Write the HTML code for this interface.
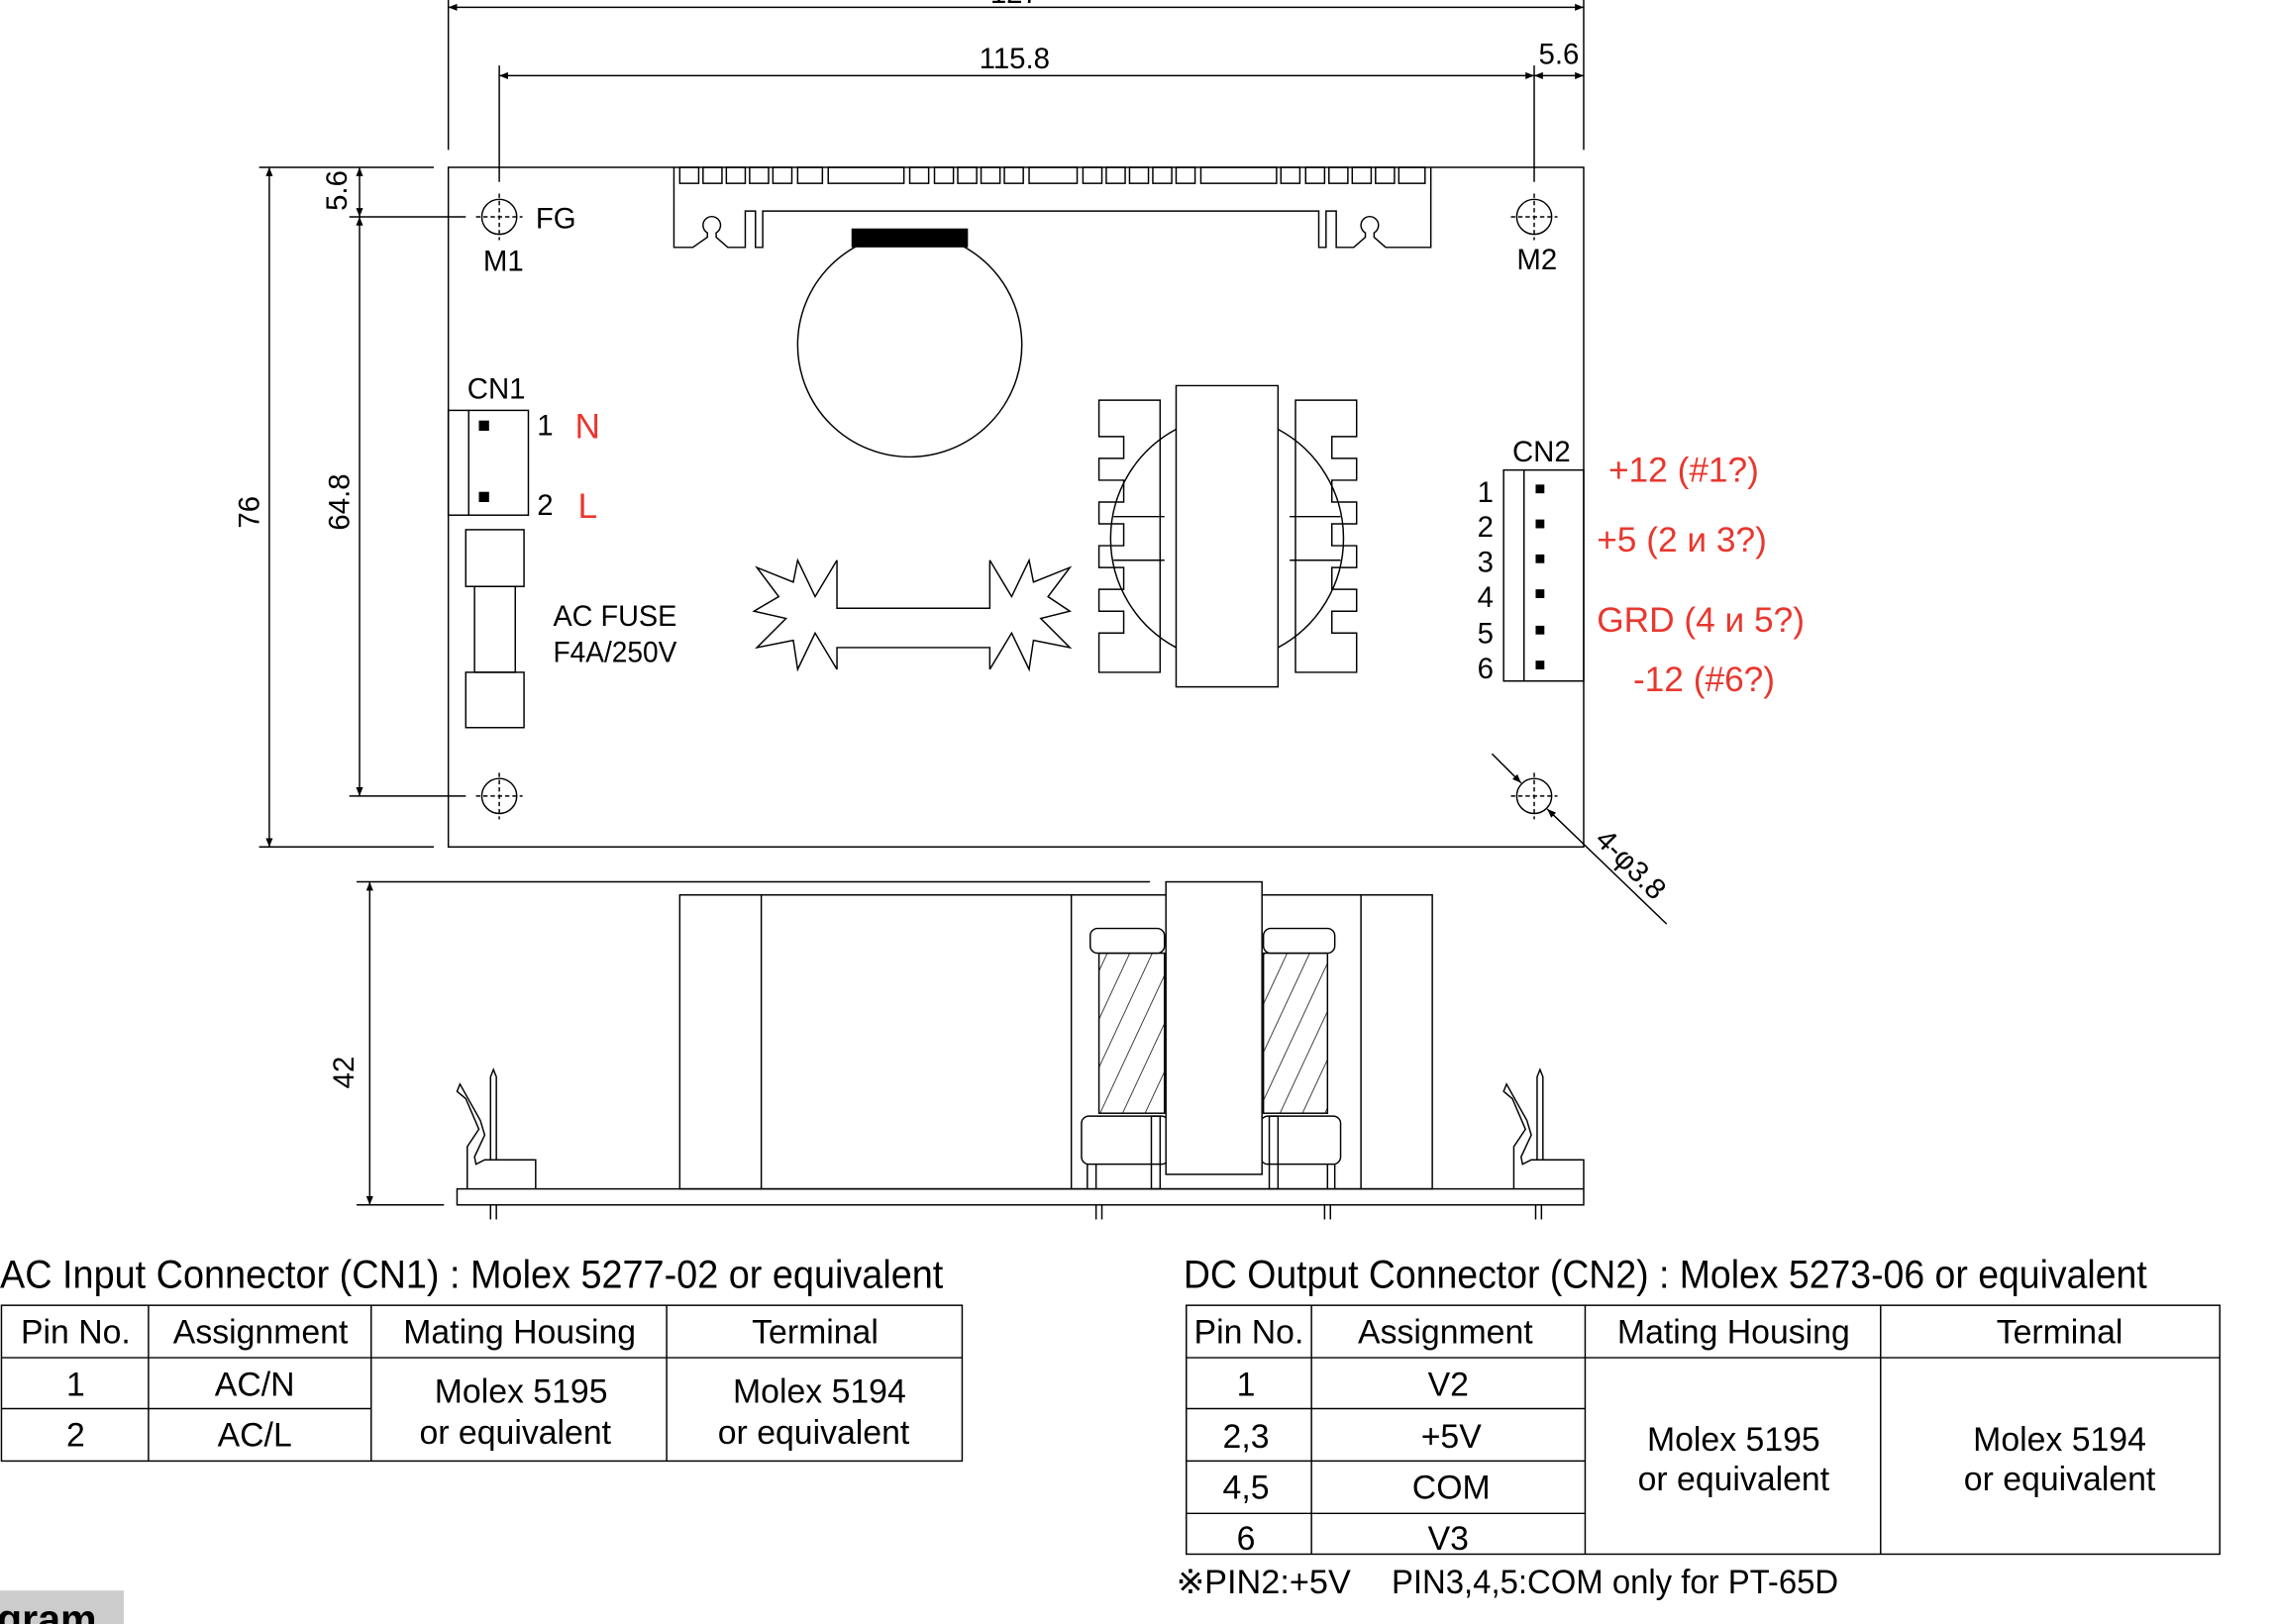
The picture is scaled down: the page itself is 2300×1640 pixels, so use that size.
<!DOCTYPE html>
<html><head><meta charset="utf-8"><style>html,body{margin:0;padding:0;background:#fff}svg{display:block}</style></head>
<body>
<svg width="2300" height="1640" viewBox="0 0 1565 1116" preserveAspectRatio="none" xmlns="http://www.w3.org/2000/svg" font-family="Liberation Sans, sans-serif">
<defs>
<marker id="a" viewBox="0 0 10 10" refX="10" refY="5" markerWidth="9" markerHeight="6" orient="auto-start-reverse" markerUnits="userSpaceOnUse"><path d="M0,1 L10,5 L0,9z" fill="#000"/></marker>
<pattern id="h" width="14" height="14" patternUnits="userSpaceOnUse" patternTransform="rotate(25)"><line x1="0" y1="0" x2="0" y2="14" stroke="#000" stroke-width="1"/></pattern>
</defs>
<g stroke="#000" fill="none" stroke-width="1">
<line x1="308" y1="0" x2="308" y2="103"/><line x1="1088" y1="0" x2="1088" y2="103"/>
<line x1="308" y1="5" x2="1088" y2="5" marker-start="url(#a)" marker-end="url(#a)"/>
<line x1="343" y1="45" x2="343" y2="125"/><line x1="1054" y1="45" x2="1054" y2="125"/>
<line x1="343" y1="52" x2="1054" y2="52" marker-start="url(#a)" marker-end="url(#a)"/>
<line x1="1054" y1="52" x2="1088" y2="52" marker-start="url(#a)" marker-end="url(#a)"/>
<rect x="308" y="115" width="780" height="467"/>
<line x1="178" y1="115" x2="298" y2="115"/><line x1="178" y1="582" x2="298" y2="582"/>
<line x1="185" y1="115" x2="185" y2="582" marker-start="url(#a)" marker-end="url(#a)"/>
<line x1="240" y1="149" x2="320" y2="149"/><line x1="240" y1="547" x2="320" y2="547"/>
<line x1="247" y1="149" x2="247" y2="547" marker-start="url(#a)" marker-end="url(#a)"/>
<line x1="247" y1="115" x2="247" y2="149" marker-start="url(#a)" marker-end="url(#a)"/>
<g stroke-dasharray="3,2"><line x1="327" y1="149" x2="359" y2="149"/><line x1="343" y1="133" x2="343" y2="165"/>
<line x1="1038" y1="149" x2="1070" y2="149"/><line x1="1054" y1="133" x2="1054" y2="165"/>
<line x1="327" y1="547" x2="359" y2="547"/><line x1="343" y1="531" x2="343" y2="563"/>
<line x1="1038" y1="547" x2="1070" y2="547"/><line x1="1054" y1="531" x2="1054" y2="563"/></g>
<circle cx="343" cy="149" r="12"/><circle cx="1054" cy="149" r="12"/><circle cx="343" cy="547" r="12"/><circle cx="1054" cy="547" r="12"/>
<path d="M463,115 V170 H476 L486,163 V160 A6,6 0 1 1 492,160 V163 L500,170 H512 V145 H519 V170 H524 V145 H906 V170 H911 V145 H918 V170 H930 L938,163 V160 A6,6 0 1 1 944,160 V163 L952,170 H983 V115"/>
<g>
<rect x="467" y="115" width="13" height="11"/><rect x="483" y="115" width="13" height="11"/><rect x="499" y="115" width="13" height="11"/><rect x="515" y="115" width="13" height="11"/><rect x="531" y="115" width="13" height="11"/><rect x="548" y="115" width="17" height="11"/><rect x="569" y="115" width="52" height="11"/><rect x="625" y="115" width="13" height="11"/><rect x="642" y="115" width="13" height="11"/><rect x="658" y="115" width="13" height="11"/><rect x="674" y="115" width="13" height="11"/><rect x="690" y="115" width="13" height="11"/><rect x="707" y="115" width="33" height="11"/><rect x="744" y="115" width="13" height="11"/><rect x="760" y="115" width="13" height="11"/><rect x="776" y="115" width="13" height="11"/><rect x="792" y="115" width="13" height="11"/><rect x="808" y="115" width="13" height="11"/><rect x="825" y="115" width="52" height="11"/><rect x="880" y="115" width="13" height="11"/><rect x="897" y="115" width="13" height="11"/><rect x="913" y="115" width="13" height="11"/><rect x="929" y="115" width="13" height="11"/><rect x="945" y="115" width="13" height="11"/><rect x="961" y="115" width="18" height="11"/>
</g>
<circle cx="625" cy="237" r="77"/>
<rect x="308" y="282" width="55" height="72"/><line x1="322" y1="282" x2="322" y2="354"/>
<rect x="320" y="364" width="40" height="39"/><rect x="326" y="403" width="28" height="59"/><rect x="320" y="462" width="40" height="38"/>
<path d="M575,385 V418 H680 V385 M575,460 V445 H680 V460"/>
<path d="M575,385 L560,410 L548,385 L545,400 L520,390 L535,410 L518,420 L540,425 L520,445 L545,440 L548,460 L560,435 L575,460"/>
<path d="M680,385 L695,410 L707,385 L710,400 L735,390 L720,410 L735,420 L715,425 L735,445 L710,440 L707,460 L695,435 L680,460"/>
<path d="M808,265 H878 V472 H808Z"/>
<path d="M797,275 H755 V300 H772 V315 H755 V330 H772 V345 H755 V360 H772 V375 H755 V390 H772 V405 H755 V420 H772 V435 H755 V462 H797 Z"/>
<path d="M890,275 H932 V300 H915 V315 H932 V330 H915 V345 H932 V360 H915 V375 H932 V390 H915 V405 H932 V420 H915 V435 H932 V462 H890 Z"/>
<path d="M808,295 A85,85 0 0 0 808,445"/><path d="M878,295 A85,85 0 0 1 878,445"/>
<line x1="765" y1="355" x2="800" y2="355"/><line x1="765" y1="385" x2="800" y2="385"/><line x1="886" y1="355" x2="921" y2="355"/><line x1="886" y1="385" x2="921" y2="385"/>
<rect x="1033" y="323" width="55" height="145"/><line x1="1047" y1="323" x2="1047" y2="468"/>
<line x1="1025" y1="518" x2="1045" y2="538" marker-end="url(#a)"/>
<line x1="1145" y1="635" x2="1063" y2="556" marker-end="url(#a)"/>
<line x1="245" y1="606" x2="790" y2="606"/><line x1="245" y1="828" x2="305" y2="828"/>
<line x1="254" y1="606" x2="254" y2="828" marker-start="url(#a)" marker-end="url(#a)"/>
<rect x="314" y="817" width="774" height="11"/>
<rect x="467" y="615" width="517" height="202"/><line x1="523" y1="615" x2="523" y2="817"/><line x1="736" y1="615" x2="736" y2="817"/><line x1="935" y1="615" x2="935" y2="817"/>
<rect x="755" y="655" width="45" height="110" fill="url(#h)"/><rect x="868" y="655" width="44" height="110" fill="url(#h)"/>
<rect x="749" y="638" width="51" height="17" rx="5" fill="#fff"/><rect x="868" y="638" width="49" height="17" rx="5" fill="#fff"/>
<rect x="743" y="767" width="60" height="33" rx="5" fill="#fff"/><rect x="866" y="767" width="55" height="33" rx="5" fill="#fff"/>
<rect x="801" y="606" width="66" height="201" fill="#fff"/>
<line x1="747" y1="800" x2="747" y2="817"/><line x1="753" y1="800" x2="753" y2="817"/><line x1="912" y1="800" x2="912" y2="817"/><line x1="917" y1="800" x2="917" y2="817"/>
<rect x="791" y="767" width="6" height="50"/><rect x="872" y="767" width="6" height="50"/>
<line x1="337" y1="828" x2="337" y2="838"/><line x1="341" y1="828" x2="341" y2="838"/><line x1="753" y1="828" x2="753" y2="838"/><line x1="757" y1="828" x2="757" y2="838"/><line x1="910" y1="828" x2="910" y2="838"/><line x1="914" y1="828" x2="914" y2="838"/><line x1="1055" y1="828" x2="1055" y2="838"/><line x1="1059" y1="828" x2="1059" y2="838"/>
<path d="M321,817 V788 L329,776 L320,755 L314,750 L316,745 L330,770 L333,780 L326,795 L327,800 L333,797 H368 V817"/>
<path d="M337,797 V740 L339,735 L341,740 V797"/>
<path d="M1040,817 V788 L1048,776 L1039,755 L1033,750 L1035,745 L1049,770 L1052,780 L1045,795 L1046,800 L1052,797 H1088 V817"/>
<path d="M1056,797 V740 L1058,735 L1060,740 V797"/>
<rect x="1" y="897" width="660" height="107"/>
<line x1="1" y1="933" x2="661" y2="933"/><line x1="1" y1="968" x2="255" y2="968"/>
<line x1="102" y1="897" x2="102" y2="1004"/><line x1="255" y1="897" x2="255" y2="1004"/><line x1="458" y1="897" x2="458" y2="1004"/>
<rect x="815" y="897" width="710" height="171"/>
<line x1="815" y1="933" x2="1525" y2="933"/><line x1="815" y1="968" x2="1089" y2="968"/><line x1="815" y1="1004" x2="1089" y2="1004"/><line x1="815" y1="1040" x2="1089" y2="1040"/>
<line x1="901" y1="897" x2="901" y2="1068"/><line x1="1089" y1="897" x2="1089" y2="1068"/><line x1="1292" y1="897" x2="1292" y2="1068"/>
</g>
<g fill="#000">
<rect x="585" y="157" width="80" height="13"/>
<rect x="329" y="289" width="7" height="7"/><rect x="329" y="338" width="7" height="7"/>
<rect x="1055" y="333" width="6" height="6"/><rect x="1055" y="357" width="6" height="6"/><rect x="1055" y="381" width="6" height="6"/><rect x="1055" y="405" width="6" height="6"/><rect x="1055" y="430" width="6" height="6"/><rect x="1055" y="454" width="6" height="6"/>
</g>
<g font-size="20" fill="#000">
<text x="697" y="2" text-anchor="middle">127</text>
<text x="697" y="47" text-anchor="middle">115.8</text>
<text x="1071" y="44" text-anchor="middle">5.6</text>
<text transform="translate(178,352) rotate(-90)" text-anchor="middle">76</text>
<text transform="translate(240,345) rotate(-90)" text-anchor="middle">64.8</text>
<text transform="translate(238,131) rotate(-90)" text-anchor="middle">5.6</text>
<text transform="translate(243,737) rotate(-90)" text-anchor="middle">42</text>
<text x="368" y="157">FG</text><text x="332" y="186">M1</text><text x="1042" y="185">M2</text>
<text x="321" y="274">CN1</text><text x="1039" y="317">CN2</text>
<text x="369" y="299">1</text><text x="369" y="354">2</text>
<text x="380" y="430" textLength="85" lengthAdjust="spacingAndGlyphs">AC FUSE</text><text x="380" y="455" textLength="85" lengthAdjust="spacingAndGlyphs">F4A/250V</text>
<text x="1015" y="345">1</text><text x="1015" y="369">2</text><text x="1015" y="393">3</text><text x="1015" y="417">4</text><text x="1015" y="442">5</text><text x="1015" y="466">6</text>
<text transform="translate(1095,578) rotate(45)">4-φ3.8</text>
</g>
<g font-size="24" fill="#e8372e">
<text x="395" y="301">N</text><text x="397" y="356">L</text>
<text x="1105" y="331">+12 (#1?)</text><text x="1097" y="379">+5 (2 и 3?)</text><text x="1097" y="434">GRD (4 и 5?)</text><text x="1122" y="475">-12 (#6?)</text>
</g>
<g fill="#000" font-size="27">
<text x="0" y="885" textLength="648" lengthAdjust="spacingAndGlyphs">AC Input Connector (CN1) : Molex 5277-02  or equivalent</text>
<text x="813" y="885" textLength="662" lengthAdjust="spacingAndGlyphs">DC Output Connector (CN2) : Molex 5273-06 or equivalent</text>
</g>
<g fill="#000" font-size="23" text-anchor="middle">
<text x="52" y="923">Pin No.</text><text x="179" y="923">Assignment</text><text x="357" y="923">Mating Housing</text><text x="560" y="923">Terminal</text>
<text x="52" y="959">1</text><text x="175" y="959">AC/N</text><text x="52" y="994">2</text><text x="175" y="994">AC/L</text>
<text x="358" y="964">Molex 5195</text><text x="354" y="992">or equivalent</text><text x="563" y="964">Molex 5194</text><text x="559" y="992">or equivalent</text>
<text x="858" y="923">Pin No.</text><text x="993" y="923">Assignment</text><text x="1191" y="923">Mating Housing</text><text x="1415" y="923">Terminal</text>
<text x="856" y="959">1</text><text x="995" y="959">V2</text>
<text x="856" y="995">2,3</text><text x="997" y="995">+5V</text>
<text x="856" y="1030">4,5</text><text x="997" y="1030">COM</text>
<text x="856" y="1065">6</text><text x="995" y="1065">V3</text>
<text x="1191" y="997">Molex 5195</text><text x="1191" y="1024">or equivalent</text>
<text x="1415" y="997">Molex 5194</text><text x="1415" y="1024">or equivalent</text>
</g>
<text x="808" y="1095" font-size="23" fill="#000" textLength="120" lengthAdjust="spacingAndGlyphs">※PIN2:+5V</text>
<text x="956" y="1095" font-size="23" fill="#000" textLength="307" lengthAdjust="spacingAndGlyphs">PIN3,4,5:COM only for PT-65D</text>
<rect x="0" y="1093" width="85" height="23" fill="#cccccc"/>
<text x="-2" y="1122" font-size="28" font-weight="bold" fill="#000">gram</text>
</svg>
</body></html>
